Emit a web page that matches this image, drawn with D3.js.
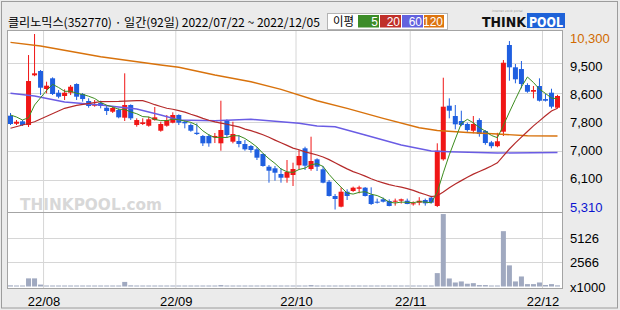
<!DOCTYPE html>
<html><head><meta charset="utf-8">
<script src="https://cdn.jsdelivr.net/npm/d3@7"></script>
<style>body{margin:0;background:#ebebeb;} svg{display:block}</style>
</head><body><svg id="c" width="620" height="310"></svg>
<script>
// ---- data ----
const opens  = [7977,7749,7817,7712,9125,9248,8736,9040,8631,8537,8631,8878,8594,8395,8261,8338,8204,8090,8139,7920,
                8281,7712,7741,7692,7854,7550,7692,7778,7997,7806,7712,7493,7400,7400,7362,7192,7854,7238,7258,7172,
                7115,7021,6888,6527,6481,6319,6214,6291,6567,7050,6461,6737,6453,6100,5694,5390,5816,5836,5900,5930,
                5722,5532,5600,5552,5532,5560,5560,5458,5503,5580,5646,5410,6737,8261,7968,7826,7741,7550,7854,7542,
                7220,7110,7522,9987,9353,9304,8850,8659,8821,8450,8631,8204];
const highs  = [8054,7854,7854,9702,10300,9276,8943,9068,8707,8727,8850,8898,8622,8471,8423,8403,8253,8253,8187,9182,
                8300,7903,7903,7948,8224,7806,7997,8073,8017,7854,7760,7760,7428,7457,7485,8403,7874,7806,7428,7286,
                7144,7078,6908,6575,6547,6481,6717,6641,7000,7095,7380,6765,6547,6149,5750,5940,5884,5960,5986,5950,
                5940,5620,5650,5600,5620,5620,5620,5540,5660,5620,5700,7192,9057,8471,8281,8119,7780,7968,7903,7570,
                7260,7490,9560,10100,9447,9532,8900,8821,9040,8600,8744,8570];
const lows   = [7712,7712,7684,7655,9100,8565,8614,8565,8471,8423,8565,8423,8375,8204,8233,8187,7997,8054,7903,7826,
                7854,7664,7712,7664,7835,7522,7664,7761,7712,7618,7522,7428,7115,7095,7200,6982,7363,7192,7078,6982,
                6925,6717,6527,6072,6129,6072,6072,5978,6450,6433,6413,6405,6055,5680,5310,5372,5580,5810,5770,5680,
                5440,5480,5510,5400,5420,5480,5460,5420,5430,5420,5480,5380,6700,7903,7590,7680,7520,7476,7380,7150,
                7050,7080,7400,8972,8898,8756,8630,8471,8380,8380,8182,8180];
const closes = [7741,7806,7712,8963,9182,8773,8830,8594,8517,8631,8801,8517,8451,8253,8309,8253,8110,8196,7931,8281,
                7903,7854,7789,7874,7931,7741,7854,7997,7778,7761,7550,7456,7192,7192,7400,7570,7428,7457,7172,7021,
                7002,6783,6547,6413,6356,6214,6376,6461,6831,6555,6689,6527,6072,5694,5609,5816,5694,5930,5940,5694,
                5466,5503,5532,5410,5560,5600,5466,5486,5560,5486,5503,6982,8233,8119,7732,7712,7570,7741,7456,7200,
                7110,7250,9483,9353,9012,8878,8659,8707,8403,8403,8233,8537];
const volumes = [120,90,100,850,850,200,90,90,80,90,80,90,80,90,80,90,80,90,90,480,
                 120,80,80,80,80,80,80,80,80,80,80,80,80,80,80,150,80,80,80,80,
                 80,80,80,80,80,80,80,80,80,80,150,80,70,70,70,70,70,70,70,70,
                 70,70,70,70,70,70,70,70,70,70,70,1400,7580,840,420,530,290,350,150,150,
                 90,100,5790,2210,530,1050,250,250,420,160,250,120];
// moving averages: leading values (window not complete in view)
const ma5Lead  = [7997,7940,7854,7920];
const ma20Lead = [[0,7619],[4,7806],[9,8187],[11,8270],[15,8375],[18,8385]];
const ma60Pts  = [[0,8617],[4,8537],[9,8366],[15,8281],[21,8167],[25,7997],[28,7854],[34,7835],[40,7874],[45,7806],
                  [48,7761],[51,7684],[54,7664],[59,7428],[65,7144],[70,6973],[73,6953],[81,6916],[91,6930]];
const ma120Pts = [[0,10063],[5,9958],[15,9654],[25,9418],[28,9353],[34,9134],[40,8943],[45,8727],[51,8403],[56,8187],
                  [62,7903],[68,7636],[71,7556],[76,7499],[81,7456],[86,7405],[91,7400]];
const priceMin = 5310, priceMax = 10300;
const priceTickLabels = ["10,300","9,500","8,600","7,800","7,000","6,100","5,310"];
const volTickValues = [5126, 2566];
const volTickLabels = ["5126", "2566"];
const volUnitLabel = "x1000";
const volMax = 7690;
const monthLabels = ["22/08","22/09","22/10","22/11","22/12"];
const holidays = ["2022-08-15","2022-09-09","2022-09-12","2022-10-03","2022-10-10"];
const titleText = "클리노믹스(352770) · 일간(92일) 2022/07/22 ~ 2022/12/05";
const legendTitle = "이평";
const legendItems = [{label:"5",color:"#3c8c28"},{label:"20",color:"#c0302a"},{label:"60",color:"#6262de"},{label:"120",color:"#dc7410"}];

// ---- derived ----
const fmtDay = d3.utcFormat("%Y-%m-%d");
const dates = d3.utcDays(new Date(Date.UTC(2022,6,22)), new Date(Date.UTC(2022,11,6)))
  .filter(d => d.getUTCDay() !== 0 && d.getUTCDay() !== 6 && !holidays.includes(fmtDay(d)));
const idx = d3.range(closes.length);
function sma(n, i){ return d3.mean(closes.slice(i-n+1, i+1)); }
const ma5 = idx.map(i => i < 4 ? [i, ma5Lead[i]] : [i, sma(5,i)]);
const ma20 = ma20Lead.concat(idx.filter(i => i >= 19).map(i => [i, sma(20,i)]));

// ---- layout ----
const svg = d3.select("#c");
const L = 7.5, R = 562.5, mainTop = 30.5, mainBot = 212.5, volBot = 288.5;
const x = d3.scaleBand().domain(idx).range([8, 8 + 6*closes.length]).paddingInner(1/6).paddingOuter(0).align(0);
const xc = i => x(i) + x.bandwidth()/2;
const y = d3.scaleLinear().domain([priceMin, priceMax]).range([209.5, 34]);
const yv = d3.scaleLinear().domain([0, volMax]).range([286.5, 213]);

svg.append("rect").attr("x",1.5).attr("y",1.5).attr("width",616).attr("height",306.5)
  .attr("fill","#ebebeb").attr("stroke","#9c9c9c");

// panes
svg.append("rect").attr("x",L).attr("y",mainTop).attr("width",R-L).attr("height",mainBot-mainTop).attr("fill","#fff");
svg.append("rect").attr("x",L).attr("y",mainBot).attr("width",R-L).attr("height",volBot-mainBot).attr("fill","#fff");

// watermark
svg.append("text").attr("x",20).attr("y",210).attr("font-family","DejaVu Sans, sans-serif").attr("font-weight","bold")
  .attr("font-size",16).attr("fill","#d8d8d8").attr("textLength",142).attr("lengthAdjust","spacingAndGlyphs").text("THINKPOOL.com");

const grid = "#d6d6d6";
// horizontal gridlines main
const tickVals = d3.range(1, priceTickLabels.length-1).map(k => priceMax - k*(priceMax-priceMin)/(priceTickLabels.length-1));
svg.append("g").selectAll("line").data(tickVals).join("line")
  .attr("x1",L).attr("x2",R).attr("y1",d=>Math.round(y(d))+0.5).attr("y2",d=>Math.round(y(d))+0.5)
  .attr("stroke",grid);
// horizontal gridlines volume
svg.append("g").selectAll("line").data(volTickValues).join("line")
  .attr("x1",L).attr("x2",R).attr("y1",d=>Math.round(yv(d))+0.5).attr("y2",d=>Math.round(yv(d))+0.5)
  .attr("stroke",grid);
// month ticks
const monthIdx = idx.filter(i => i > 0 && dates[i].getUTCMonth() !== dates[i-1].getUTCMonth());
const monthTicks = monthIdx.map((i,k) => ({i, label: monthLabels[k]}));
svg.append("g").selectAll("line").data(monthTicks).join("line")
  .attr("x1",d=>x(d.i)-0.5).attr("x2",d=>x(d.i)-0.5).attr("y1",mainTop).attr("y2",volBot).attr("stroke",grid);

// volume bars
svg.append("g").selectAll("rect").data(idx).join("rect")
  .attr("x",i=>x(i)).attr("width",x.bandwidth())
  .attr("y",i=>Math.min(yv(volumes[i]), 285.5)).attr("height",i=>Math.max(1, 286.5 - yv(volumes[i])))
  .attr("fill","#a0a9c0");

// candles
const up = "#f01616", down = "#1f5fe0";
const cg = svg.append("g");
cg.selectAll("line").data(idx).join("line")
  .attr("x1",i=>xc(i)).attr("x2",i=>xc(i)).attr("y1",i=>y(highs[i])).attr("y2",i=>y(lows[i]))
  .attr("stroke",i=>closes[i]>=opens[i]?up:down).attr("stroke-width",1);
cg.selectAll("rect").data(idx).join("rect")
  .attr("x",i=>x(i)).attr("width",x.bandwidth())
  .attr("y",i=>y(Math.max(opens[i],closes[i])))
  .attr("height",i=>Math.max(1, y(Math.min(opens[i],closes[i])) - y(Math.max(opens[i],closes[i]))))
  .attr("fill",i=>closes[i]>=opens[i]?up:down);

// moving averages
const line = d3.line().x(d=>xc(d[0])).y(d=>y(d[1]));
const maDefs = [[ma120Pts,"#d8720c",1.4],[ma60Pts,"#6a5ce4",1.4],[ma20,"#b52a2a",1.2],[ma5,"#3c8c1e",1]];
svg.append("g").selectAll("path").data(maDefs).join("path")
  .attr("d",d=>line(d[0])).attr("fill","none").attr("stroke",d=>d[1]).attr("stroke-width",d=>d[2]);

// pane borders
svg.append("rect").attr("x",L).attr("y",mainTop).attr("width",R-L).attr("height",mainBot-mainTop).attr("fill","none").attr("stroke","#a4a4a4");
svg.append("rect").attr("x",L).attr("y",mainBot).attr("width",R-L).attr("height",volBot-mainBot).attr("fill","none").attr("stroke","#a4a4a4");

// right axis labels
const lblFont = "Liberation Sans, Arial, sans-serif";
const labelPos = d3.scaleLinear().domain([0, priceTickLabels.length-1]).range([38, 207]);
svg.append("g").selectAll("text").data(priceTickLabels).join("text")
  .attr("x",570).attr("y",(d,k)=>labelPos(k)+4.5).attr("font-family",lblFont).attr("font-size",13)
  .attr("fill",(d,k)=>k===0?"#d06a00":(k===priceTickLabels.length-1?"#0a14d0":"#000")).text(d=>d);
svg.append("g").selectAll("text").data(volTickValues).join("text")
  .attr("x",570).attr("y",d=>yv(d)+5).attr("font-family",lblFont).attr("font-size",13).attr("fill","#000")
  .text((d,k)=>volTickLabels[k]);
svg.append("text").attr("x",570).attr("y",yv(0)+5).attr("font-family",lblFont).attr("font-size",13).text(volUnitLabel);

// x labels
svg.append("g").selectAll("text").data(monthTicks).join("text")
  .attr("x",d=>x(d.i)).attr("y",305.5).attr("text-anchor","middle").attr("font-family",lblFont).attr("font-size",13)
  .text(d=>d.label);

// title
svg.append("text").attr("x",8).attr("y",26.5).attr("font-family","Noto Sans CJK KR, sans-serif").attr("font-size",12.2)
  .attr("textLength",312).attr("lengthAdjust","spacingAndGlyphs").text(titleText);

// legend
const lg = svg.append("g");
lg.append("rect").attr("x",327.5).attr("y",13.5).attr("width",120).attr("height",16).attr("fill","#fff").attr("stroke","#b4b4b4");
lg.append("text").attr("x",333).attr("y",25.5).attr("font-family","Noto Sans CJK KR, sans-serif").attr("font-size",12)
  .attr("textLength",21).attr("lengthAdjust","spacingAndGlyphs").text(legendTitle);
const lx = [358, 380, 402, 424], lw = [21, 21, 21, 20];
legendItems.forEach((it,k)=>{
  lg.append("rect").attr("x",lx[k]).attr("y",15).attr("width",lw[k]).attr("height",12.5).attr("fill",it.color);
  lg.append("text").attr("x",lx[k]+lw[k]-1).attr("y",26).attr("text-anchor","end").attr("font-family",lblFont)
    .attr("font-size",12).attr("fill","#fff").text(it.label);
});

// logo
svg.append("text").attr("x",482).attr("y",27).attr("font-family","DejaVu Sans, sans-serif").attr("font-weight","bold")
  .attr("font-size",14).attr("textLength",44).attr("lengthAdjust","spacingAndGlyphs").attr("fill","#111").text("THINK");
svg.append("rect").attr("x",527).attr("y",13).attr("width",38).attr("height",15).attr("fill","#1e62d8");
svg.append("text").attr("x",529).attr("y",27).attr("font-family","DejaVu Sans, sans-serif").attr("font-weight","bold")
  .attr("font-size",14).attr("textLength",34).attr("lengthAdjust","spacingAndGlyphs").attr("fill","#fff").text("POOL");
svg.append("text").attr("x",492).attr("y",11.5).attr("font-family","DejaVu Sans, sans-serif")
  .attr("font-size",3).attr("fill","#999").text("internet stock portal");
</script>
</body></html>
